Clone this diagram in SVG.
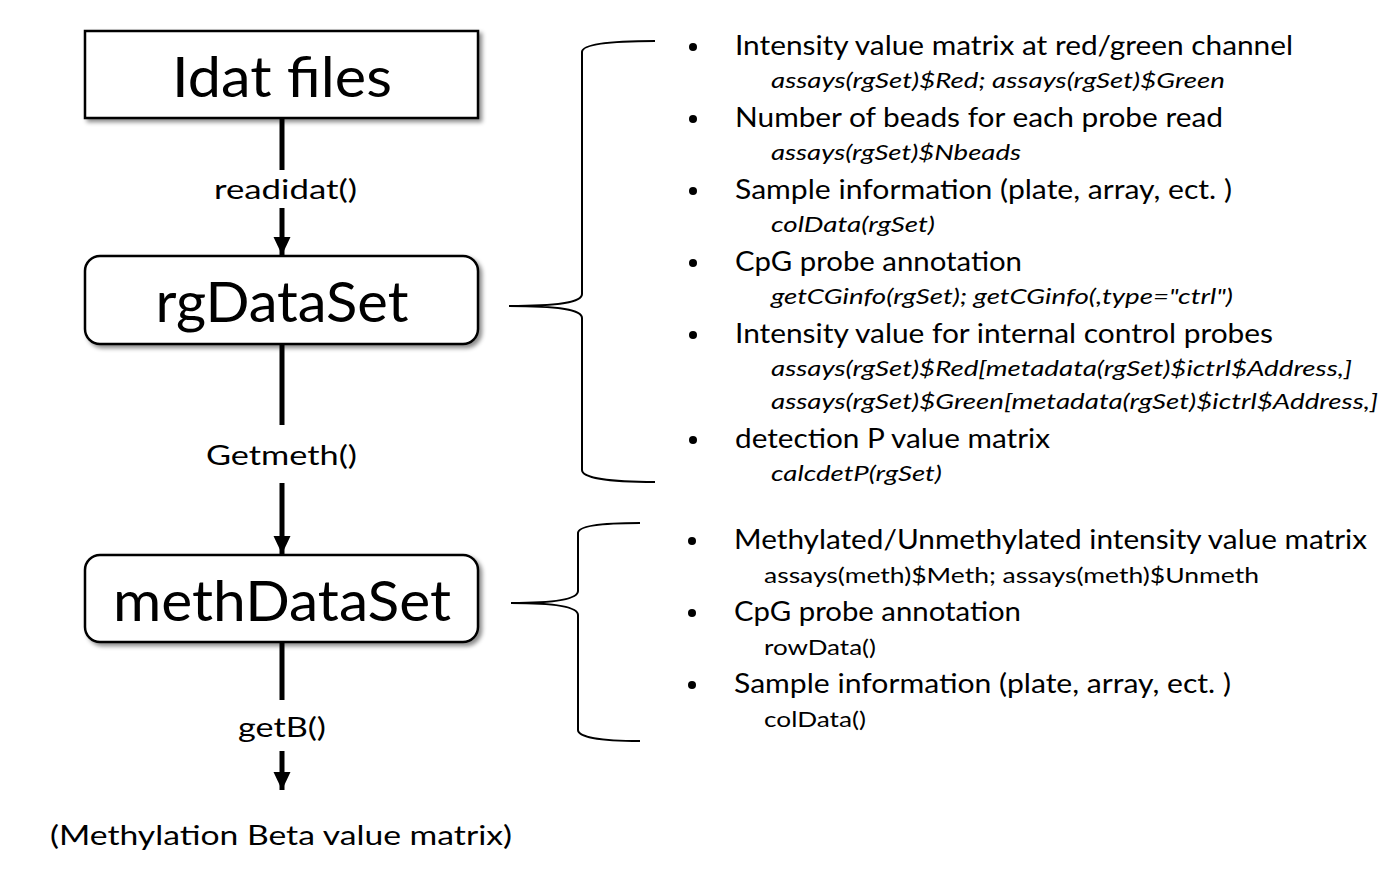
<svg xmlns="http://www.w3.org/2000/svg" width="1392" height="881" viewBox="0 0 1392 881">
<style>
.box{fill:#fff;stroke:#000;stroke-width:2.5;filter:url(#sh)}
.big{font-family:Lato,"Open Sans",sans-serif;font-size:56px;fill:#000;text-anchor:middle}
.lbl{font-family:Lato,"Open Sans",sans-serif;font-size:26px;fill:#000}
.main{font-family:Lato,"Open Sans",sans-serif;font-size:26px;fill:#000}
.sub{font-family:Lato,"Open Sans",sans-serif;font-size:21px;fill:#000;font-style:italic}
.sub2{font-family:Lato,"Open Sans",sans-serif;font-size:21px;fill:#000}
.conn{stroke:#000;stroke-width:5;fill:none}
.brace{stroke:#000;stroke-width:2;fill:none}
</style>
<defs>
<filter id="sh" x="-10%" y="-20%" width="125%" height="150%">
<feDropShadow dx="3" dy="3" stdDeviation="2" flood-color="#000" flood-opacity="0.45"/>
</filter>
<marker id="ah" markerWidth="4" markerHeight="4" refX="3.6" refY="2" orient="auto" markerUnits="strokeWidth">
<path d="M0,0.3 L3.6,2 L0,3.7 Z" fill="#000"/>
</marker>
</defs>

<g id="node-idat">
<rect class="box" x="85" y="31" width="393" height="87"/>
<text class="big" x="282" y="97" textLength="220" lengthAdjust="spacingAndGlyphs">Idat files</text>
</g>
<g id="node-rg">
<rect class="box" x="85" y="256" width="393" height="88" rx="15"/>
<text class="big" x="282" y="322" textLength="253" lengthAdjust="spacingAndGlyphs">rgDataSet</text>
</g>
<g id="node-meth">
<rect class="box" x="85" y="555" width="393" height="87" rx="15"/>
<text class="big" x="282" y="621" textLength="338" lengthAdjust="spacingAndGlyphs">methDataSet</text>
</g>
<g id="node-beta">
<text class="lbl" x="50" y="845" font-size="29" textLength="462" lengthAdjust="spacingAndGlyphs">(Methylation Beta value matrix)</text>
</g>

<g id="connectors">
<line class="conn" x1="282" y1="119" x2="282" y2="170"/>
<line class="conn" x1="282" y1="208" x2="282" y2="255" marker-end="url(#ah)"/>
<text class="lbl" x="214" y="199" textLength="143" lengthAdjust="spacingAndGlyphs">readidat()</text>
<line class="conn" x1="282" y1="345" x2="282" y2="425"/>
<line class="conn" x1="282" y1="483" x2="282" y2="554" marker-end="url(#ah)"/>
<text class="lbl" x="206" y="465" textLength="151" lengthAdjust="spacingAndGlyphs">Getmeth()</text>
<line class="conn" x1="282" y1="643" x2="282" y2="700"/>
<line class="conn" x1="282" y1="751" x2="282" y2="790" marker-end="url(#ah)"/>
<text class="lbl" x="238" y="737" textLength="88" lengthAdjust="spacingAndGlyphs">getB()</text>
</g>

<g id="brace-rg">
<path class="brace" d="M655,41 C610,41 582,44 582,52 L582,294 C582,302 560,306 509,306 C560,306 582,310 582,318 L582,470 C582,478 610,482 655,482"/>
</g>
<g id="brace-meth">
<path class="brace" d="M640,523 C600,523 578,526 578,533 L578,591 C578,598 560,603 511,603 C560,603 578,608 578,615 L578,730 C578,737 600,741 640,741"/>
</g>

<g id="list-rg">
<circle cx="693" cy="47" r="4"/>
<text class="main" x="735" y="55" textLength="558" lengthAdjust="spacingAndGlyphs">Intensity value matrix at red/green channel</text>
<text class="sub" x="771" y="88" textLength="454" lengthAdjust="spacingAndGlyphs">assays(rgSet)$Red; assays(rgSet)$Green</text>
<circle cx="693" cy="119" r="4"/>
<text class="main" x="735" y="127" textLength="488" lengthAdjust="spacingAndGlyphs">Number of beads for each probe read</text>
<text class="sub" x="771" y="160" textLength="250" lengthAdjust="spacingAndGlyphs">assays(rgSet)$Nbeads</text>
<circle cx="693" cy="191" r="4"/>
<text class="main" x="735" y="199" textLength="497" lengthAdjust="spacingAndGlyphs">Sample information (plate, array, ect. )</text>
<text class="sub" x="771" y="232" textLength="164" lengthAdjust="spacingAndGlyphs">colData(rgSet)</text>
<circle cx="693" cy="263" r="4"/>
<text class="main" x="735" y="271" textLength="287" lengthAdjust="spacingAndGlyphs">CpG probe annotation</text>
<text class="sub" x="771" y="304" textLength="462" lengthAdjust="spacingAndGlyphs">getCGinfo(rgSet); getCGinfo(,type="ctrl")</text>
<circle cx="693" cy="335" r="4"/>
<text class="main" x="735" y="343" textLength="538" lengthAdjust="spacingAndGlyphs">Intensity value for internal control probes</text>
<text class="sub" x="771" y="376" textLength="581" lengthAdjust="spacingAndGlyphs">assays(rgSet)$Red[metadata(rgSet)$ictrl$Address,]</text>
<text class="sub" x="771" y="409" textLength="607" lengthAdjust="spacingAndGlyphs">assays(rgSet)$Green[metadata(rgSet)$ictrl$Address,]</text>
<circle cx="693" cy="440" r="4"/>
<text class="main" x="735" y="448" textLength="315" lengthAdjust="spacingAndGlyphs">detection P value matrix</text>
<text class="sub" x="771" y="481" textLength="171" lengthAdjust="spacingAndGlyphs">calcdetP(rgSet)</text>
</g>

<g id="list-meth">
<circle cx="692" cy="541" r="4"/>
<text class="main" x="734" y="549" textLength="633" lengthAdjust="spacingAndGlyphs">Methylated/Unmethylated intensity value matrix</text>
<text class="sub2" x="764" y="583" textLength="495" lengthAdjust="spacingAndGlyphs">assays(meth)$Meth; assays(meth)$Unmeth</text>
<circle cx="692" cy="613" r="4"/>
<text class="main" x="734" y="621" textLength="287" lengthAdjust="spacingAndGlyphs">CpG probe annotation</text>
<text class="sub2" x="764" y="655" textLength="112" lengthAdjust="spacingAndGlyphs">rowData()</text>
<circle cx="692" cy="685" r="4"/>
<text class="main" x="734" y="693" textLength="497" lengthAdjust="spacingAndGlyphs">Sample information (plate, array, ect. )</text>
<text class="sub2" x="764" y="727" textLength="102" lengthAdjust="spacingAndGlyphs">colData()</text>
</g>
</svg>
